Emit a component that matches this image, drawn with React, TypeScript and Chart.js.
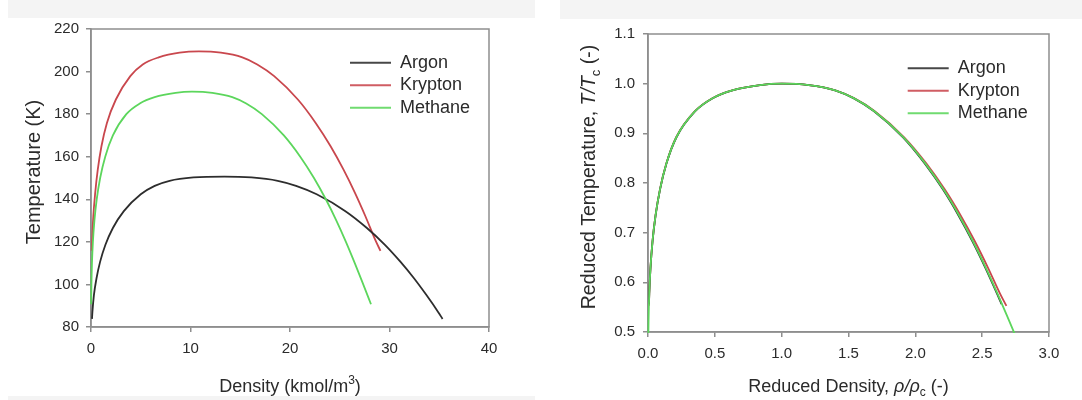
import React, { useEffect, useRef } from "react";
import { Chart, registerables } from "chart.js";

Chart.register(...registerables);

const FONT = "'Liberation Sans', Arial, Helvetica, sans-serif";

const speciesNames = ["Argon", "Krypton", "Methane"];
const speciesColors = ["#2d2d2d", "#c9474d", "#5cd65c"];

// ---- Left chart: saturation curves, Temperature (K) vs Density (kmol/m3)
const argonDensity = [0.10, 0.14, 0.29, 0.55, 0.92, 1.45, 2.2, 3.3, 5.0, 6.4, 7.9, 10.3, 13.41, 16.13, 18.77, 20.61, 22.68, 25.57, 27.73, 29.54, 31.09, 32.48, 33.73, 34.90, 35.33];
const argonTemp = [83.80, 86.98, 94.89, 102.80, 110.71, 118.62, 126.52, 134.43, 142.34, 146.29, 148.67, 150.25, 150.69, 150.25, 148.67, 146.29, 142.34, 134.43, 126.52, 118.62, 110.71, 102.80, 94.89, 86.98, 83.80];

const kryptonDensity = [0.08, 0.11, 0.23, 0.42, 0.68, 1.05, 1.60, 2.50, 3.95, 5.2, 6.8, 8.9, 10.85, 13.06, 15.21, 16.71, 18.41, 20.79, 22.58, 24.08, 25.38, 26.54, 27.59, 28.57, 29.09];
const kryptonTemp = [115.78, 120.91, 131.91, 142.91, 153.90, 164.90, 175.88, 186.88, 197.87, 203.36, 206.67, 208.87, 209.48, 208.87, 206.67, 203.36, 197.87, 186.88, 175.88, 164.90, 153.90, 142.91, 131.91, 120.91, 115.78];

const methaneDensity = [0.0157, 0.0422, 0.0958, 0.19, 0.342, 0.575, 0.92, 1.43, 2.2, 3.55, 4.9, 6.4, 8.5, 10.14, 12.2, 14.2, 15.6, 17.17, 19.38, 21.03, 22.41, 23.6, 24.66, 25.62, 26.51, 27.36, 28.14];
const methaneTemp = [90.69, 100, 110, 120, 130, 140, 150, 160, 170, 180, 185, 188, 190, 190.56, 190, 188, 185, 180, 170, 160, 150, 140, 130, 120, 110, 100, 90.69];

// ---- Right chart: reduced curves, T/Tc vs rho/rho_c
const argonRedDensity = [0.0073, 0.0094, 0.0188, 0.0339, 0.0568, 0.0902, 0.1386, 0.213, 0.353, 0.484, 0.632, 0.839, 1.0, 1.2030, 1.3995, 1.5370, 1.691, 1.908, 2.070, 2.206, 2.323, 2.428, 2.523, 2.611, 2.645];
const argonRedTemp = [0.5561, 0.5772, 0.6297, 0.6822, 0.7347, 0.7872, 0.8396, 0.8921, 0.9446, 0.9708, 0.9866, 0.9971, 1.0, 0.9971, 0.9866, 0.9708, 0.9446, 0.8921, 0.8396, 0.7872, 0.7347, 0.6822, 0.6297, 0.5772, 0.5561];

const kryptonRedDensity = [0.0070, 0.0094, 0.0186, 0.0335, 0.0562, 0.0894, 0.1376, 0.211, 0.351, 0.482, 0.630, 0.837, 1.0, 1.2036, 1.4015, 1.5405, 1.6965, 1.9165, 2.0815, 2.2195, 2.3390, 2.4460, 2.5430, 2.6335, 2.6815];
const kryptonRedTemp = [0.5527, 0.5772, 0.6297, 0.6822, 0.7347, 0.7872, 0.8396, 0.8921, 0.9446, 0.9708, 0.9866, 0.9971, 1.0, 0.9971, 0.9866, 0.9708, 0.9446, 0.8921, 0.8396, 0.7872, 0.7347, 0.6822, 0.6297, 0.5772, 0.5527];

const methaneRedDensity = [0.0015, 0.0042, 0.0094, 0.0187, 0.0337, 0.0565, 0.0898, 0.1381, 0.212, 0.352, 0.483, 0.631, 0.838, 1.0, 1.2032, 1.4004, 1.5385, 1.6933, 1.9112, 2.0740, 2.2101, 2.3274, 2.4320, 2.5266, 2.6144, 2.6982, 2.7751];
const methaneRedTemp = [0.4759, 0.5248, 0.5772, 0.6297, 0.6822, 0.7347, 0.7872, 0.8396, 0.8921, 0.9446, 0.9708, 0.9866, 0.9971, 1.0, 0.9971, 0.9866, 0.9708, 0.9446, 0.8921, 0.8396, 0.7872, 0.7347, 0.6822, 0.6297, 0.5772, 0.5248, 0.4759];

// Axis ranges / ticks: [min, max, step]
const leftXTicks = [0, 40, 10];
const leftYTicks = [80, 220, 20];
const rightXTicks = [0, 3, 0.5];
const rightYTicks = [0.5, 1.1, 0.1];

type Seg = { t: string; it?: boolean; sub?: boolean; sup?: boolean };

const leftXTitle: Seg[] = [{ t: "Density (kmol/m" }, { t: "3", sup: true }, { t: ")" }];
const leftYTitle: Seg[] = [{ t: "Temperature (K)" }];
const rightXTitle: Seg[] = [{ t: "Reduced Density, " }, { t: "\u03C1/\u03C1", it: true }, { t: "c", sub: true }, { t: " (-)" }];
const rightYTitle: Seg[] = [{ t: "Reduced Temperature, " }, { t: "T/T", it: true }, { t: "c", sub: true }, { t: " (-)" }];

const AXIS_COLOR = "#8e8e8e";
const TEXT_COLOR = "#2b2b2b";

function zip(xs: number[], ys: number[]) {
  return xs.map((x, i) => ({ x, y: ys[i] }));
}

function drawRich(ctx: CanvasRenderingContext2D, segs: Seg[], size: number, cx: number, cy: number, rotate: boolean) {
  ctx.save();
  ctx.translate(cx, cy);
  if (rotate) ctx.rotate(-Math.PI / 2);
  const fontFor = (s: Seg) => `${s.it ? "italic " : ""}${s.sub || s.sup ? Math.round(size * 0.66) : size}px ${FONT}`;
  let total = 0;
  const widths = segs.map((s) => {
    ctx.font = fontFor(s);
    const w = ctx.measureText(s.t).width;
    total += w;
    return w;
  });
  let x = -total / 2;
  ctx.textBaseline = "alphabetic";
  ctx.textAlign = "left";
  ctx.fillStyle = TEXT_COLOR;
  segs.forEach((s, i) => {
    ctx.font = fontFor(s);
    const dy = s.sub ? size * 0.24 : s.sup ? -size * 0.42 : 0;
    ctx.fillText(s.t, x, dy);
    x += widths[i];
  });
  ctx.restore();
}

type Cfg = {
  datasets: { x: number[]; y: number[] }[];
  xt: number[];
  yt: number[];
  decimals: number;
  pad: { left: number; right: number; top: number; bottom: number };
  yWidth: number;
  xHeight: number;
  yLabelPad: number;
  legendX: number;
  legendY: number;
  xTitle: Seg[];
  yTitle: Seg[];
  xTitleY: number;
  yTitleX: number;
  yTitleY: number;
  yTitleSize: number;
};

function buildChart(canvas: HTMLCanvasElement, cfg: Cfg) {
  const order = [1, 2, 0];
  const framePlugin = {
    id: "frame",
    beforeDatasetsDraw(chart: any) {
      const { ctx, chartArea: a } = chart;
      ctx.save();
      ctx.strokeStyle = AXIS_COLOR;
      ctx.lineWidth = 1.5;
      ctx.strokeRect(a.left, a.top, a.right - a.left, a.bottom - a.top);
      ctx.restore();
    },
    afterDraw(chart: any) {
      const { ctx, chartArea: a } = chart;
      ctx.save();
      speciesNames.forEach((name, i) => {
        const y = cfg.legendY + i * 22.5;
        ctx.strokeStyle = speciesColors[i];
        ctx.globalAlpha = 0.88;
        ctx.lineWidth = 2;
        ctx.beginPath();
        ctx.moveTo(cfg.legendX, y);
        ctx.lineTo(cfg.legendX + 41, y);
        ctx.stroke();
        ctx.globalAlpha = 1;
        ctx.fillStyle = TEXT_COLOR;
        ctx.font = `18px ${FONT}`;
        ctx.textBaseline = "middle";
        ctx.textAlign = "left";
        ctx.fillText(name, cfg.legendX + 50, y);
      });
      ctx.restore();
      drawRich(ctx, cfg.xTitle, 18, (a.left + a.right) / 2, cfg.xTitleY, false);
      drawRich(ctx, cfg.yTitle, cfg.yTitleSize, cfg.yTitleX, cfg.yTitleY, true);
    },
  };

  const fmt = (v: any) => Number(v).toFixed(cfg.decimals);

  return new Chart(canvas, {
    type: "line",
    data: {
      datasets: cfg.datasets.map((d, i) => ({
        label: speciesNames[i],
        data: zip(d.x, d.y),
        borderColor: speciesColors[i],
        borderWidth: 1.8,
        pointRadius: 0,
        pointHoverRadius: 0,
        fill: false,
        cubicInterpolationMode: "monotone",
        order: order[i],
        clip: 1,
      })),
    },
    options: {
      animation: false,
      responsive: false,
      maintainAspectRatio: false,
      events: [],
      layout: { padding: cfg.pad },
      plugins: { legend: { display: false }, tooltip: { enabled: false }, title: { display: false } },
      scales: {
        x: {
          type: "linear",
          min: cfg.xt[0],
          max: cfg.xt[1],
          ticks: {
            stepSize: cfg.xt[2],
            autoSkip: false,
            maxRotation: 0,
            padding: 8,
            color: TEXT_COLOR,
            font: { size: 15, family: FONT },
            callback: fmt,
          },
          grid: { display: true, drawOnChartArea: false, drawTicks: true, tickLength: 5, color: AXIS_COLOR, lineWidth: 1.5 },
          border: { display: true, color: AXIS_COLOR, width: 1.5 },
          afterFit: (s: any) => {
            s.height = cfg.xHeight;
          },
        },
        y: {
          type: "linear",
          min: cfg.yt[0],
          max: cfg.yt[1],
          ticks: {
            stepSize: cfg.yt[2],
            autoSkip: false,
            padding: cfg.yLabelPad,
            color: TEXT_COLOR,
            font: { size: 15, family: FONT },
            callback: fmt,
          },
          grid: { display: true, drawOnChartArea: false, drawTicks: true, tickLength: 5, color: AXIS_COLOR, lineWidth: 1.5 },
          border: { display: true, color: AXIS_COLOR, width: 1.5 },
          afterFit: (s: any) => {
            s.width = cfg.yWidth;
          },
        },
      },
    } as any,
    plugins: [framePlugin],
  });
}

export default function App() {
  const leftRef = useRef<HTMLCanvasElement>(null);
  const rightRef = useRef<HTMLCanvasElement>(null);

  useEffect(() => {
    const left = buildChart(leftRef.current!, {
      datasets: [
        { x: argonDensity, y: argonTemp },
        { x: kryptonDensity, y: kryptonTemp },
        { x: methaneDensity, y: methaneTemp },
      ],
      xt: leftXTicks,
      yt: leftYTicks,
      decimals: 0,
      pad: { left: 0, right: 52, top: 29, bottom: 0 },
      yWidth: 91,
      xHeight: 73,
      yLabelPad: 7,
      legendX: 350,
      legendY: 62.7,
      xTitle: leftXTitle,
      yTitle: leftYTitle,
      xTitleY: 392,
      yTitleX: 40,
      yTitleY: 172,
      yTitleSize: 20,
    });
    const right = buildChart(rightRef.current!, {
      datasets: [
        { x: argonRedDensity, y: argonRedTemp },
        { x: kryptonRedDensity, y: kryptonRedTemp },
        { x: methaneRedDensity, y: methaneRedTemp },
      ],
      xt: rightXTicks,
      yt: rightYTicks,
      decimals: 1,
      pad: { left: 0, right: 33, top: 34, bottom: 0 },
      yWidth: 107,
      xHeight: 68,
      yLabelPad: 8,
      legendX: 366.7,
      legendY: 68.3,
      xTitle: rightXTitle,
      yTitle: rightYTitle,
      xTitleY: 392,
      yTitleX: 54,
      yTitleY: 177,
      yTitleSize: 19.5,
    });
    return () => {
      left.destroy();
      right.destroy();
    };
  }, []);

  return (
    <div style={{ position: "fixed", left: 0, top: 0, width: 1082, height: 400, background: "#ffffff", overflow: "hidden" }}>
      <div style={{ position: "absolute", left: 8, top: 0, width: 527, height: 18, background: "#f4f4f4" }} />
      <div style={{ position: "absolute", left: 560, top: 0, width: 522, height: 19, background: "#f4f4f4" }} />
      <div style={{ position: "absolute", left: 8, top: 396, width: 527, height: 4, background: "#f4f4f4" }} />
      <canvas ref={leftRef} width={541} height={400} style={{ position: "absolute", left: 0, top: 0, width: 541, height: 400 }} />
      <canvas ref={rightRef} width={541} height={400} style={{ position: "absolute", left: 541, top: 0, width: 541, height: 400 }} />
    </div>
  );
}
